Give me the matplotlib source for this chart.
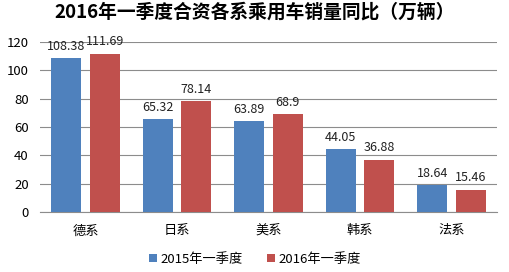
import matplotlib.pyplot as plt
import numpy as np

plt.rcParams['font.family'] = ['Noto Sans CJK SC', 'DejaVu Sans']

categories = ['德系', '日系', '美系', '韩系', '法系']
q1_2015 = [108.38, 65.32, 63.89, 44.05, 18.64]
q1_2016 = [111.69, 78.14, 68.9, 36.88, 15.46]
labels_2015 = ['108.38', '65.32', '63.89', '44.05', '18.64']
labels_2016 = ['111.69', '78.14', '68.9', '36.88', '15.46']

fig = plt.figure(figsize=(5.1, 2.72), dpi=100)
ax = fig.add_axes([0.078, 0.221, 0.897, 0.625])

x = np.arange(len(categories))
w = 0.33
b1 = ax.bar(x - w / 2 - 0.045, q1_2015, w, color='#4F81BD', label='2015年一季度', zorder=3)
b2 = ax.bar(x + w / 2 + 0.045, q1_2016, w, color='#C0504D', label='2016年一季度', zorder=3)

for bars, labs in ((b1, labels_2015), (b2, labels_2016)):
    for r, t in zip(bars, labs):
        ax.annotate(t, (r.get_x() + r.get_width() / 2, r.get_height()),
                    xytext=(0, 4), textcoords='offset points',
                    ha='center', va='bottom', fontsize=9, color='#222222')

ax.set_xlim(-0.5, len(categories) - 0.5)
ax.set_ylim(0, 120)
ax.set_yticks(range(0, 121, 20))
ax.set_xticks(x)
ax.set_xticklabels(categories, fontsize=9.5)
ax.tick_params(axis='y', labelsize=9.5, length=0, pad=8)
ax.tick_params(axis='x', length=0, pad=9)
ax.grid(axis='y', color='#8c8c8c', linewidth=0.8, zorder=0)
for s in ('left', 'right', 'top'):
    ax.spines[s].set_visible(False)
ax.spines['bottom'].set_color('#8c8c8c')

fig.suptitle('2016年一季度合资各系乘用车销量同比（万辆）', x=0.5, y=0.99,
             fontsize=13.5, fontweight='bold')
fig.legend(handles=[b1, b2], loc='lower center', bbox_to_anchor=(0.5, -0.02),
           ncol=2, frameon=False, fontsize=9.5, handlelength=0.6,
           handleheight=0.6, handletextpad=0.3, columnspacing=1.8)

fig.savefig('out.png', dpi=100)
